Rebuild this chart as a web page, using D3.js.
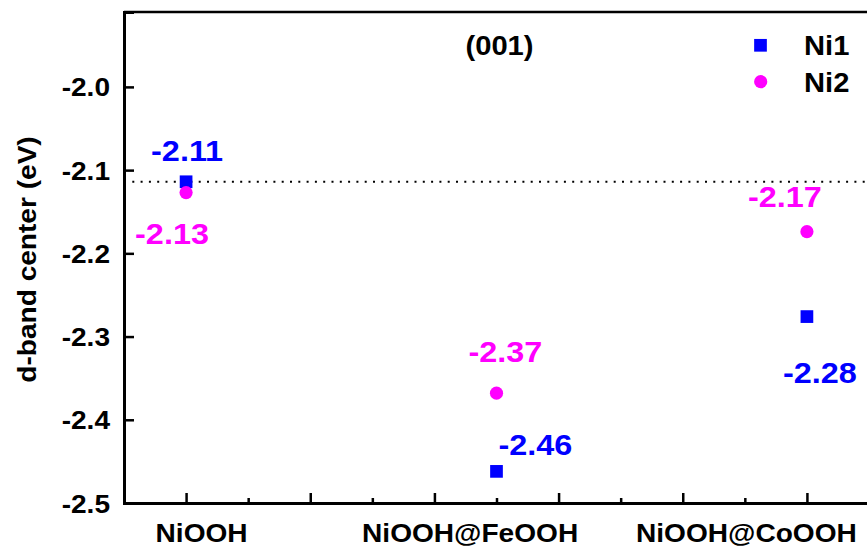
<!DOCTYPE html>
<html>
<head>
<meta charset="utf-8">
<script src="https://cdn.jsdelivr.net/npm/d3@7"></script>
<style>
  html, body { margin: 0; padding: 0; background: #fff; }
  svg { display: block; }
  text { font-family: "Liberation Sans", Arial, sans-serif; font-weight: bold; }
</style>
</head>
<body>
<svg id="chart" width="867" height="547"></svg>
<script>
// ---- data ----
const categories = ["NiOOH", "NiOOH@FeOOH", "NiOOH@CoOOH"];
const xPos = [1, 2, 3];
const ni1 = [-2.114, -2.462, -2.276];
const ni2 = [-2.127, -2.368, -2.174];
const yTicks = [-2.5, -2.4, -2.3, -2.2, -2.1, -2.0];
const xMajorTicks = [1.0, 1.4, 1.8, 2.2, 2.6, 3.0];
const xMinorTicks = [1.2, 1.6, 2.0, 2.4, 2.8];
const catLabelPos = [1.05, 1.915, 2.805];
const seriesNames = ["Ni1", "Ni2"];
const panelTitle = "(001)";
const yTitle = "d-band center (eV)";

// label offsets in px (text start / baseline relative to point)
const ni1LabelOff = [[-35, -21], [2, -16], [-24, 66]];
const ni2LabelOff = [[-51, 51], [-28, -31], [-59, -25]];

const BLUE = "#0000ff", MAG = "#ff00ff";
const SX = 1.08; // horizontal stretch of the glyphs

const svg = d3.select("#chart");
const pL = 124, pR = 869, pT = 12, pB = 503;

const x = d3.scaleLinear().domain([0.8, 3.2]).range([pL, pR]);
const y = d3.scaleLinear().domain([-2.5, -1.91]).range([pB, pT]);

function stretchText(g, tx, ty, str, size, anchor, color) {
  return g.append("text")
    .attr("transform", `translate(${tx},${ty}) scale(${SX},1)`)
    .attr("text-anchor", anchor || "start")
    .attr("font-size", size)
    .attr("fill", color || "#000")
    .text(str);
}

// top border
svg.append("line").attr("x1", pL).attr("x2", 867).attr("y1", pT).attr("y2", pT)
  .attr("stroke", "#000").attr("stroke-width", 2.5);

// dotted reference line
svg.append("line")
  .attr("x1", pL).attr("x2", 867)
  .attr("y1", y(ni1[0])).attr("y2", y(ni1[0]))
  .attr("stroke", "#000").attr("stroke-width", 2)
  .attr("stroke-dasharray", "2,6.3");

// y axis
const yAxis = d3.axisLeft(y).tickValues(yTicks).tickSize(-10).tickPadding(0)
  .tickFormat(d => d.toFixed(1));
const gy = svg.append("g").attr("transform", `translate(${pL},0)`).call(yAxis);
gy.attr("font-family", null);
gy.select(".domain").attr("stroke-width", 3);
gy.selectAll(".tick line").attr("stroke-width", 2.5);
gy.selectAll(".tick text")
  .attr("x", 0).attr("dy", null)
  .attr("transform", `translate(-14,9) scale(${SX},1)`)
  .attr("font-size", 26).attr("fill", "#000");

// x axis (major + minor)
const xAxisMajor = d3.axisBottom(x).tickValues(xMajorTicks).tickSize(-10).tickFormat("").tickSizeOuter(0);
const gx = svg.append("g").attr("transform", `translate(0,${pB})`).call(xAxisMajor);
gx.select(".domain").attr("stroke-width", 3);
gx.selectAll(".tick line").attr("stroke-width", 2.5);
const xAxisMinor = d3.axisBottom(x).tickValues(xMinorTicks).tickSize(-5).tickFormat("").tickSizeOuter(0);
const gx2 = svg.append("g").attr("transform", `translate(0,${pB})`).call(xAxisMinor);
gx2.select(".domain").remove();
gx2.selectAll(".tick line").attr("stroke-width", 2.5);

// category labels
const gc = svg.append("g");
categories.forEach((c, i) => stretchText(gc, x(catLabelPos[i]), 542, c, 26, "middle"));

// y title
svg.append("text")
  .attr("transform", `translate(36,${(pT + pB) / 2 + 2}) rotate(-90) scale(${SX},1)`)
  .attr("text-anchor", "middle").attr("font-size", 26).attr("fill", "#000")
  .text(yTitle);

// panel title
stretchText(svg, 499.5, 55, panelTitle, 27, "middle");

// points
const SQ = 12.7, R = 6.6;
const gp = svg.append("g");
gp.selectAll("rect.ni1").data(xPos.map((d, i) => [d, ni1[i]])).join("rect")
  .attr("class", "ni1")
  .attr("x", d => x(d[0]) - SQ / 2).attr("y", d => y(d[1]) - SQ / 2)
  .attr("width", SQ).attr("height", SQ).attr("fill", BLUE);
gp.selectAll("circle.ni2").data(xPos.map((d, i) => [d, ni2[i]])).join("circle")
  .attr("class", "ni2")
  .attr("cx", d => x(d[0])).attr("cy", d => y(d[1])).attr("r", R).attr("fill", MAG);

// value labels
const gl = svg.append("g");
xPos.forEach((d, i) => {
  stretchText(gl, x(d) + ni1LabelOff[i][0], y(ni1[i]) + ni1LabelOff[i][1], ni1[i].toFixed(2), 30, "start", BLUE);
  stretchText(gl, x(d) + ni2LabelOff[i][0], y(ni2[i]) + ni2LabelOff[i][1], ni2[i].toFixed(2), 30, "start", MAG);
});

// legend
const gLeg = svg.append("g");
gLeg.append("rect").attr("x", 760.5 - SQ / 2).attr("y", 45.3 - SQ / 2).attr("width", SQ).attr("height", SQ).attr("fill", BLUE);
gLeg.append("circle").attr("cx", 760.7).attr("cy", 81.7).attr("r", R).attr("fill", MAG);
stretchText(gLeg, 804, 55, seriesNames[0], 27, "start");
stretchText(gLeg, 804, 91.7, seriesNames[1], 27, "start");
</script>
</body>
</html>
